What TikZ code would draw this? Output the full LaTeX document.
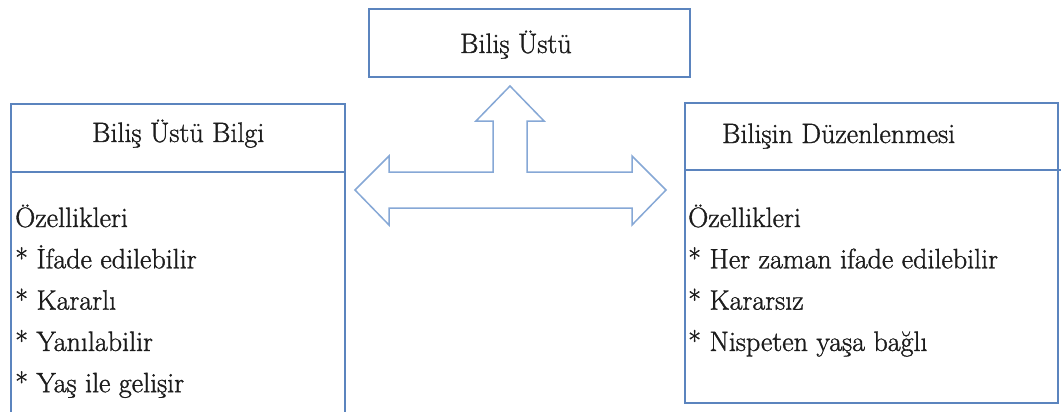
\documentclass[tikz,border=0pt]{standalone}
\usepackage{fontspec}
\setmainfont{Latin Modern Roman}[UprightFeatures={FakeBold=1.2}]
\begin{document}
\begin{tikzpicture}[x=1pt,y=-1pt,
  boxline/.style={draw=boxblue,line width=1.6pt},
  arrowline/.style={draw=arrowblue,line width=1.5pt,line join=miter,fill=white},
  txt/.style={inner sep=0pt,anchor=base west,text=ink,font=\fontsize{28}{34}\selectfont}]
\definecolor{boxblue}{HTML}{5B84BE}
\definecolor{arrowblue}{HTML}{86A8D6}
\definecolor{ink}{HTML}{1C1C1C}
\useasboundingbox (0,0) rectangle (1061,412);
\clip (0,0) rectangle (1061,412);
\fill[white] (0,0) rectangle (1061,412);

% top box
\draw[boxline] (369,9) rectangle (690,77);
\node[txt] (top) at (460,53) {Biliş Üstü};

% left box with title row
\draw[boxline] (11,104) rectangle (345,430);
\draw[boxline] (11,172) -- (345,172);
\node[txt] (lhead) at (92,142) {Biliş Üstü Bilgi};
\foreach \t [count=\i from 0] in {Özellikleri,* İfade edilebilir,* Kararlı,* Yanılabilir,* Yaş ile gelişir}
  \node[txt] (l\i) at (15,{227+41.3*\i}) {\t};

% right box with title row
\draw[boxline] (685,103) rectangle (1058,403);
\draw[boxline] (685,170) -- (1061,170);
\node[txt] (rhead) at (722,143) {Bilişin Düzenlenmesi};
\foreach \t [count=\i from 0] in {Özellikleri,* Her zaman ifade edilebilir,* Kararsız,* Nispeten yaşa bağlı}
  \node[txt] (r\i) at (688,{227+41.3*\i}) {\t};

% three-way block arrow
\draw[arrowline] (355,190) -- (389,156) -- (389,172) -- (493,172) -- (493,121)
  -- (476,121) -- (510,86) -- (544,121) -- (527,121) -- (527,172) -- (632,172)
  -- (632,156) -- (666,190) -- (632,225) -- (632,208) -- (389,208) -- (389,225) -- cycle;
\end{tikzpicture}
\end{document}
